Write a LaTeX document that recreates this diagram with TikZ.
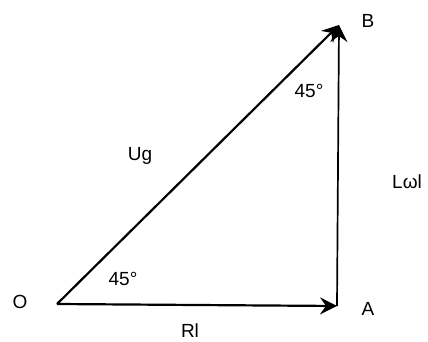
\documentclass[tikz,border=0pt]{standalone}
\usepackage{fontspec}
\setmainfont{Liberation Sans}
\usetikzlibrary{arrows.meta}
\begin{document}
\begin{tikzpicture}[x=1pt,y=-1pt,
  vec/.style={line width=2.2pt,-{Stealth[length=17pt,width=17pt,inset=6pt,line width=1.2pt]}},
  lbl/.style={inner sep=0pt,font=\fontsize{19}{22}\selectfont}]
\useasboundingbox (0,0) rectangle (428,342);
\coordinate (O) at (57,304);
\coordinate (A) at (337,306);
\coordinate (B) at (339,25);
\draw[vec] (O) -- (A);
\draw[vec,line width=1.7pt] (A) -- (B);
\draw[vec] (O) -- (B);
\node[lbl] (lO) at (20,302) {O};
\node[lbl] (lA) at (368,309) {A};
\node[lbl] (lB) at (368,21) {B};
\node[lbl] (lRI) at (190,331) {Rl};
\node[lbl] (lUg) at (140,156) {Ug};
\node[lbl,anchor=west] (lL) at (392,182) {Lωl};
\node[lbl] (a1) at (123,279) {45°};
\node[lbl] (a2) at (309,91) {45°};
\end{tikzpicture}
\end{document}
